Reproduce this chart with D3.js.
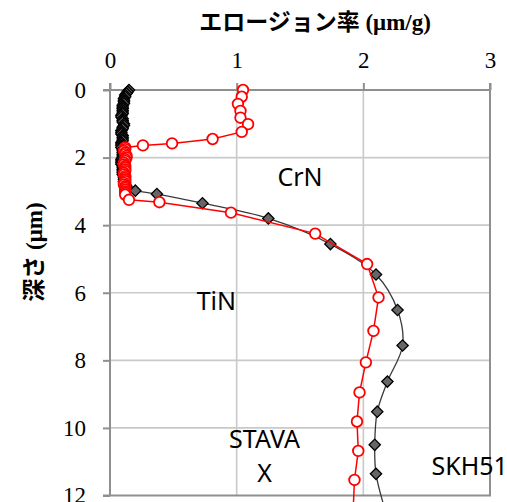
<!DOCTYPE html>
<html>
<head>
<meta charset="utf-8">
<script src="https://cdn.jsdelivr.net/npm/d3@7"></script>
<style>
    body { margin: 0; background: #fff; }
    svg { display: block; }
    .tick text { font-family: "Liberation Serif", "DejaVu Serif", serif; font-size: 23px; }
</style>
</head>
<body>
<div id="chart"></div>
<script>
// ticks
const xTicks = [0, 1, 2, 3];
const yTicks = [0, 2, 4, 6, 8, 10, 12];

// red circles (straight line)
const redDepth = [
    0, 0.2, 0.41, 0.62, 0.82, 1.01, 1.24, 1.45, 1.58, 1.64,
    1.7, 1.75, 1.8, 1.85, 1.9, 1.95, 2.0, 2.05, 2.1, 2.15, 2.2, 2.25, 2.3, 2.35, 2.4,
    2.45, 2.5, 2.55, 2.6, 2.65, 2.7, 2.75, 2.8, 2.85, 2.9, 2.95, 3.0, 3.05, 3.1,
    3.25, 3.32, 3.63, 4.25, 5.15, 6.14, 7.13, 8.06, 8.95, 9.81, 10.68, 11.54, 12.4,
];
const redRate = [
    1.05, 1.04, 1.01, 1.03, 1.03, 1.09, 1.04, 0.81, 0.49, 0.26,
    0.12, 0.12, 0.11, 0.12, 0.12, 0.13, 0.13, 0.12, 0.12, 0.11, 0.11, 0.12, 0.12, 0.12, 0.12,
    0.11, 0.11, 0.12, 0.12, 0.12, 0.12, 0.11, 0.11, 0.12, 0.12, 0.12, 0.12, 0.12, 0.12,
    0.15, 0.39, 0.955, 1.62, 2.03, 2.12, 2.08, 2.02, 1.97, 1.95, 1.96, 1.93, 1.92,
];

// gray diamonds (smoothed line)
const grayDepth = [
    0, 0.05, 0.1, 0.15, 0.2, 0.25, 0.3, 0.35, 0.4, 0.45, 0.5, 0.55, 0.6, 0.65, 0.7, 0.75,
    0.8, 0.85, 0.9, 0.95, 1.0, 1.05, 1.1, 1.15, 1.2, 1.25, 1.3, 1.35, 1.4, 1.45, 1.5,
    1.55, 1.6, 1.65, 1.7, 1.75, 1.8, 1.85, 1.9, 1.95, 2.0, 2.05, 2.1, 2.15, 2.2, 2.25,
    2.3, 2.35, 2.4, 2.45, 2.5, 2.55, 2.6, 2.65, 2.7, 2.75, 2.8, 2.85, 2.9,
    2.98, 3.08, 3.35, 3.8, 4.56, 5.46, 6.51, 7.56, 8.63, 9.52, 10.5, 11.36, 12.4,
];
const grayRate = [
    0.15, 0.14, 0.13, 0.12, 0.12, 0.11, 0.11, 0.11, 0.11, 0.1, 0.1, 0.1, 0.1, 0.1, 0.1, 0.09,
    0.09, 0.1, 0.1, 0.1, 0.11, 0.11, 0.1, 0.1, 0.09, 0.09, 0.09, 0.1, 0.1, 0.1, 0.1,
    0.09, 0.09, 0.09, 0.09, 0.1, 0.1, 0.1, 0.1, 0.1, 0.1, 0.09, 0.09, 0.09, 0.09, 0.1,
    0.1, 0.1, 0.1, 0.1, 0.1, 0.11, 0.11, 0.11, 0.11, 0.12, 0.12, 0.13, 0.13,
    0.2, 0.37, 0.73, 1.25, 1.74, 2.1, 2.27, 2.31, 2.19, 2.11, 2.09, 2.1, 2.17,
];

// text labels placed in the plot (value coordinates)
const noteText = ['CrN', 'TiN', 'STAVA', 'X', 'SKH51'];
const noteRate = [1.5, 0.84, 1.22, 1.22, 2.84];
const noteDepth = [2.84, 6.5, 10.6, 11.6, 11.4];

const xTitle = 'エロージョン率';
const xUnit = ' (μm/g)';
const yTitle = '深さ';
const yUnit = ' (μm)';

class DepthProfileChart {

    constructor(width, height) {
        this.width = width;
        this.height = height;
        this.plot = { left: 110, right: 490, top: 90, bottom: 495.5 };

        this.x = d3.scaleLinear().domain([0, 3]).range([this.plot.left, this.plot.right]);
        this.y = d3.scaleLinear().domain([0, 12]).range([this.plot.top, this.plot.bottom]);

        this.svg = d3
            .create('svg')
            .attr('width', width)
            .attr('height', height)
            .attr('viewBox', [0, 0, width, height]);
    }

    drawGrid() {
        const g = this.svg.append('g').attr('class', 'grid');
        g.selectAll('.vgrid')
            .data(xTicks.slice(1, -1))
            .enter()
            .append('line')
            .attr('x1', (d) => this.x(d))
            .attr('x2', (d) => this.x(d))
            .attr('y1', this.plot.top)
            .attr('y2', this.plot.bottom)
            .style('stroke', '#c9c9c9')
            .style('stroke-width', 1.6);
        g.selectAll('.hgrid')
            .data(yTicks.slice(1, -1))
            .enter()
            .append('line')
            .attr('x1', this.plot.left)
            .attr('x2', this.plot.right)
            .attr('y1', (d) => this.y(d))
            .attr('y2', (d) => this.y(d))
            .style('stroke', '#c9c9c9')
            .style('stroke-width', 1.6);

        // right and bottom border of the plot area
        g.append('path')
            .attr('d', `M${ this.plot.right },${ this.plot.top }V${ this.plot.bottom }H${ this.plot.left - 7 }`)
            .style('fill', 'none')
            .style('stroke', '#8f8f8f')
            .style('stroke-width', 2);
    }

    drawAxes() {
        const xAxis = d3.axisTop(this.x).tickValues(xTicks).tickSize(7).tickFormat(d3.format('d'));
        const yAxis = d3.axisLeft(this.y).tickValues(yTicks).tickSize(7).tickFormat(d3.format('d'));

        const gx = this.svg
            .append('g')
            .attr('transform', `translate(0, ${ this.plot.top })`)
            .call(xAxis);
        const gy = this.svg
            .append('g')
            .attr('transform', `translate(${ this.plot.left }, 0)`)
            .call(yAxis);

        [gx, gy].forEach((g) => {
            g.attr('font-family', '"Liberation Serif", serif').attr('font-size', 23);
            g.select('.domain').attr('stroke', '#8f8f8f').attr('stroke-width', 2);
            g.selectAll('.tick line').attr('stroke', '#8f8f8f').attr('stroke-width', 2);
            g.selectAll('.tick text').attr('fill', '#000');
        });
        gx.select('.domain').attr('d', `M${ this.plot.left },-7V0H${ this.plot.right }V-7`);
        gy.select('.domain').attr('d', `M-7,${ this.plot.top }H0V${ this.plot.bottom }`);
        gx.selectAll('.tick text').attr('y', -22);
        gy.selectAll('.tick text').attr('x', -24);

        // axis titles
        const title = this.svg
            .append('text')
            .attr('x', 315)
            .attr('y', 30)
            .style('text-anchor', 'middle')
            .style('font-weight', 'bold')
            .style('font-size', '23px');
        title.append('tspan')
            .style('font-family', '"Noto Sans CJK JP", sans-serif')
            .text(xTitle);
        title.append('tspan')
            .style('font-family', '"Liberation Serif", serif')
            .text(xUnit);

        const ylab = this.svg
            .append('text')
            .attr('transform', 'translate(42, 252) rotate(-90)')
            .style('text-anchor', 'middle')
            .style('font-weight', 'bold')
            .style('font-size', '23px');
        ylab.append('tspan')
            .style('font-family', '"Noto Sans CJK JP", sans-serif')
            .text(yTitle);
        ylab.append('tspan')
            .style('font-family', '"Liberation Serif", serif')
            .text(yUnit);
    }

    drawSeries() {
        const gray = grayDepth.map((d, i) => ({ depth: d, rate: grayRate[i] }));
        const red = redDepth.map((d, i) => ({ depth: d, rate: redRate[i] }));

        const smooth = d3
            .line()
            .x((d) => this.x(d.rate))
            .y((d) => this.y(d.depth))
            .curve(d3.curveCatmullRom.alpha(0.5));
        const straight = d3
            .line()
            .x((d) => this.x(d.rate))
            .y((d) => this.y(d.depth));

        this.svg
            .append('path')
            .datum(gray)
            .attr('d', smooth)
            .style('fill', 'none')
            .style('stroke', '#3a3a3a')
            .style('stroke-width', 1.3);

        this.svg
            .selectAll('.diamond')
            .data(gray)
            .enter()
            .append('rect')
            .attr('class', 'diamond')
            .attr('x', -4)
            .attr('y', -4)
            .attr('width', 8)
            .attr('height', 8)
            .attr('transform', (d) => `translate(${ this.x(d.rate) }, ${ this.y(d.depth) }) rotate(45)`)
            .style('fill', '#666')
            .style('stroke', '#000')
            .style('stroke-width', 1.3);

        this.svg
            .append('path')
            .datum(red)
            .attr('d', straight)
            .style('fill', 'none')
            .style('stroke', '#ff0000')
            .style('stroke-width', 1.5);

        this.svg
            .selectAll('.circle')
            .data(red)
            .enter()
            .append('circle')
            .attr('class', 'circle')
            .attr('cx', (d) => this.x(d.rate))
            .attr('cy', (d) => this.y(d.depth))
            .attr('r', 5.3)
            .style('fill', '#fff')
            .style('stroke', '#ff0000')
            .style('stroke-width', 1.8);
    }

    drawNotes() {
        this.svg
            .selectAll('.note')
            .data(noteText)
            .enter()
            .append('text')
            .attr('class', 'note')
            .attr('x', (d, i) => this.x(noteRate[i]))
            .attr('y', (d, i) => this.y(noteDepth[i]))
            .style('text-anchor', 'middle')
            .style('font-family', '"Noto Sans", "Open Sans", sans-serif')
            .style('font-size', '25px')
            .style('fill', '#000')
            .text((d) => d);
    }

    render() {
        this.drawGrid();
        this.drawAxes();
        this.drawSeries();
        this.drawNotes();
        return this.svg.node();
    }

}

const chart = new DepthProfileChart(507, 502);
document.getElementById('chart').appendChild(chart.render());
</script>
</body>
</html>
